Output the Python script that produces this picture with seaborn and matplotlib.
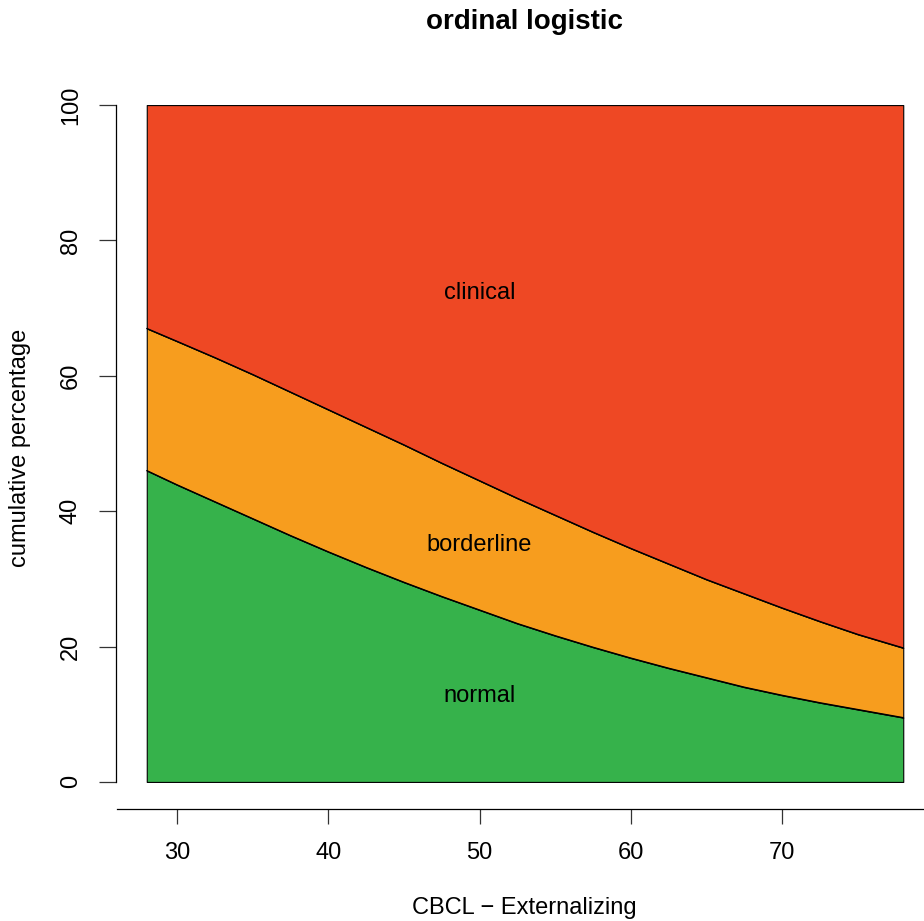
import matplotlib
matplotlib.use("Agg")
import matplotlib.pyplot as plt
import seaborn as sns
import numpy as np
import pandas as pd

# ---- data ----
cbcl_x = [28, 30, 32.5, 35, 37.5, 40, 42.5, 45, 47.5, 50, 52.5, 55, 57.5,
          60, 62.5, 65, 67.5, 70, 72.5, 75, 78]
normal_cum = [46.0, 43.9, 41.4, 38.9, 36.4, 34.0, 31.7, 29.5, 27.4, 25.4,
              23.4, 21.6, 19.9, 18.3, 16.8, 15.4, 14.0, 12.8, 11.7, 10.7, 9.5]
borderline_cum = [67.0, 65.1, 62.7, 60.2, 57.6, 55.0, 52.4, 49.8, 47.1, 44.5,
                  41.9, 39.4, 36.9, 34.5, 32.2, 29.9, 27.8, 25.7, 23.7, 21.8, 19.8]
top_cum = [100.0] * len(cbcl_x)
categories = ["normal", "borderline", "clinical"]
x_ticks = [30, 40, 50, 60, 70]
y_ticks = [0, 20, 40, 60, 80, 100]
label_x = 50

colors = {"normal": "#36B24B", "borderline": "#F79D1E", "clinical": "#EE4824"}

sns.set_style("ticks")
plt.rcParams["font.family"] = ["Liberation Sans", "DejaVu Sans"]
plt.rcParams["text.color"] = "black"
plt.rcParams["axes.labelcolor"] = "black"
plt.rcParams["xtick.color"] = "black"
plt.rcParams["ytick.color"] = "black"

df = pd.DataFrame({"x": cbcl_x, "normal": normal_cum,
                   "borderline": borderline_cum, "clinical": top_cum})

W, H = 924, 921
fig = plt.figure(figsize=(W / 100, H / 100), dpi=100)
# axes box in pixels: x from 116.5 to 933.5, y from 78 to 809
ax = fig.add_axes([116.5 / W, (H - 809) / H, 817 / W, (809 - 78) / H])

lower = np.zeros(len(cbcl_x))
for cat in categories:
    upper = df[cat].to_numpy()
    ax.fill_between(df["x"], lower, upper, facecolor=colors[cat],
                    edgecolor="black", linewidth=0.8, zorder=1)
    lower = upper

for cat in ["normal", "borderline"]:
    sns.lineplot(data=df, x="x", y=cat, ax=ax, color="black",
                 linewidth=0.9, zorder=2)

# band labels at the band mid-points
i50 = cbcl_x.index(label_x)
prev = 0.0
for cat in categories:
    cur = df[cat].iloc[i50]
    ax.text(label_x, (prev + cur) / 2, cat, ha="center", va="center",
            fontsize=17, color="black", zorder=3)
    prev = cur

ax.set_xlim(26, 80)
ax.set_ylim(-4, 104)
ax.set_xticks(x_ticks)
ax.set_yticks(y_ticks)
ax.set_xticklabels([str(t) for t in x_ticks], fontsize=17, color="black")
ax.set_yticklabels([str(t) for t in y_ticks], fontsize=17, rotation=90,
                   va="center", color="black")
ax.tick_params(axis="x", length=11, width=0.9, pad=13, color="#333333")
ax.tick_params(axis="y", length=12, width=0.9, pad=13, color="#333333")

for s in ["top", "right"]:
    ax.spines[s].set_visible(False)
ax.spines["left"].set_bounds(0, 100)
ax.spines["left"].set_linewidth(0.9)
ax.spines["left"].set_color("black")
ax.spines["bottom"].set_linewidth(0.9)
ax.spines["bottom"].set_color("black")

ax.set_xlabel("CBCL \u2212 Externalizing", fontsize=17, va="center", color="black")
ax.xaxis.set_label_coords((524.5 - 116.5) / 817, (809 - 908) / 731)
ax.set_ylabel("cumulative percentage", fontsize=17, va="center", color="black")
ax.yaxis.set_label_coords((20 - 116.5) / 817, (809 - 448) / 731)
ax.set_title("ordinal logistic", fontsize=20, fontweight="bold", color="black",
             y=(809 - 30) / 731, va="center", x=(524.5 - 116.5) / 817)

fig.savefig("out.png", dpi=100)
